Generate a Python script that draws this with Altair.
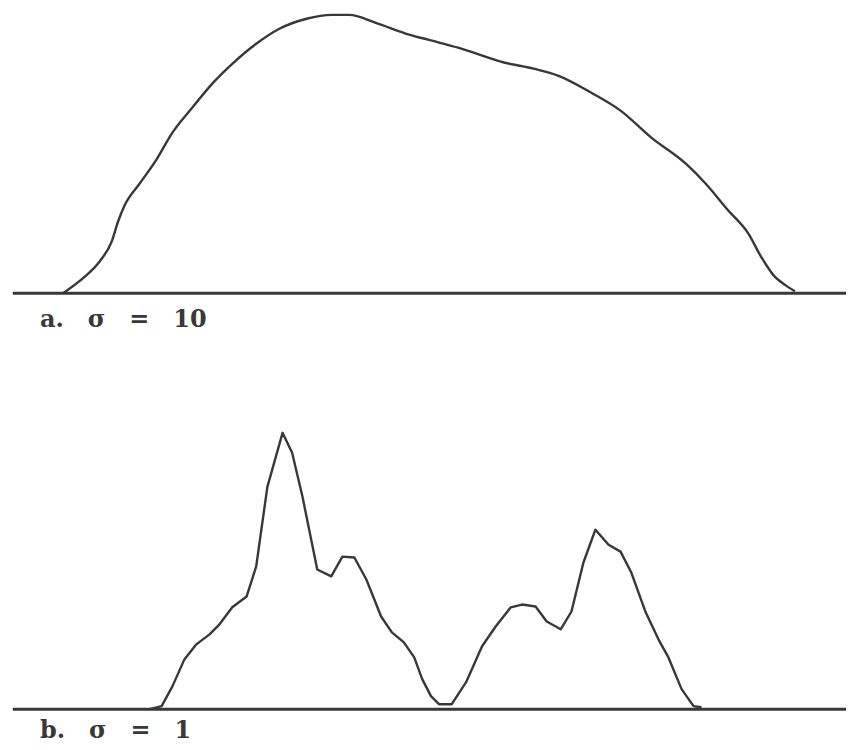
import altair as alt
import pandas as pd

# ---- data (arbitrary units: x along the axis 0..105, v = height, peak of a = 100) ----
top_x = [6.9, 9.4, 11.5, 13.0, 13.75, 14.6, 16.5, 18.6, 20.6, 23.1, 25.6, 28.1, 31.1, 34.0,
         37.4, 40.6, 42.75, 46.1, 49.9, 52.75, 56.4, 62.25, 66.0, 69.0, 73.1, 76.75, 80.6,
         84.9, 87.4, 90.25, 92.75, 94.4, 95.9, 97.4, 98.6]
top_v = [0.0, 5.4, 11.5, 18.6, 25.4, 31.5, 39.4, 48.0, 57.7, 66.7, 75.3, 82.4, 89.6, 95.0,
         98.6, 100.0, 100.0, 97.1, 93.2, 91.0, 88.2, 82.8, 80.6, 78.1, 72.0, 65.6, 55.9,
         46.6, 39.4, 29.7, 21.5, 12.9, 6.5, 2.9, 0.7]

bot_x = [17.75, 19.25, 20.6, 22.1, 23.6, 25.25, 26.5, 28.1, 29.9, 31.1, 32.5, 34.4, 35.6,
         36.9, 38.75, 40.5, 41.9, 43.4, 44.9, 46.75, 48.1, 49.6, 50.9, 51.9, 53.0, 54.0,
         55.6, 57.4, 59.4, 61.1, 63.0, 64.4, 66.1, 67.5, 69.25, 70.6, 72.1, 73.6, 75.25,
         76.75, 78.1, 79.9, 81.5, 82.75, 84.4, 85.9, 86.9]
bot_v = [0.0, 1.1, 8.2, 17.9, 23.3, 26.9, 30.5, 36.6, 40.5, 51.3, 79.9, 99.3, 92.1,
         76.3, 50.2, 47.7, 54.8, 54.5, 46.6, 33.3, 27.6, 24.0, 18.6, 10.8, 4.7, 1.8,
         1.8, 9.7, 22.6, 29.7, 36.6, 37.6, 36.9, 31.5, 28.7, 35.1, 52.7, 64.5, 59.1,
         56.6, 49.1, 34.8, 25.1, 18.6, 7.2, 1.1, 0.7]

baseline_start = 0.6
baseline_end = 105.0

labels = ["a.\u2003\u03c3\u2003=\u200310", "b.\u2003\u03c3\u2003=\u20031"]

INK = "#383838"
W = 840


def panel(xs, vs, ydom, label, interp, label_y, h):
    xscale = alt.Scale(domain=[0, 105], nice=False, zero=False)
    yscale = alt.Scale(domain=ydom, nice=False, zero=False)
    df = pd.DataFrame({"x": xs, "v": vs})
    bdf = pd.DataFrame({"x": [baseline_start], "x2": [baseline_end], "v": [0.0]})
    rule = alt.Chart(bdf).mark_rule(strokeWidth=3, color=INK).encode(
        x=alt.X("x:Q", scale=xscale, axis=None),
        x2="x2:Q",
        y=alt.Y("v:Q", scale=yscale, axis=None),
    )
    line = alt.Chart(df).mark_line(
        color=INK, strokeWidth=2.4, interpolate=interp, strokeJoin="round"
    ).encode(
        x=alt.X("x:Q", scale=xscale, axis=None),
        y=alt.Y("v:Q", scale=yscale, axis=None),
    )
    text = alt.Chart(pd.DataFrame({"t": [label]})).mark_text(
        font="DejaVu Serif", fontSize=24, fontWeight="bold", color=INK,
        align="left", baseline="middle"
    ).encode(text="t:N", x=alt.value(32), y=alt.value(label_y))
    return alt.layer(rule, line, text).properties(width=W, height=h)


pa = panel(top_x, top_v, [-27.96, 102.15], labels[0], "monotone", 312, 363)
pb = panel(bot_x, bot_v, [-11.47, 121.5], labels[1], "linear", 361, 371)

chart = alt.vconcat(pa, pb, spacing=0).properties(
    padding=0, background="white"
).configure_view(stroke=None)

chart.save("out.html", embed_options={"renderer": "svg", "actions": False})
